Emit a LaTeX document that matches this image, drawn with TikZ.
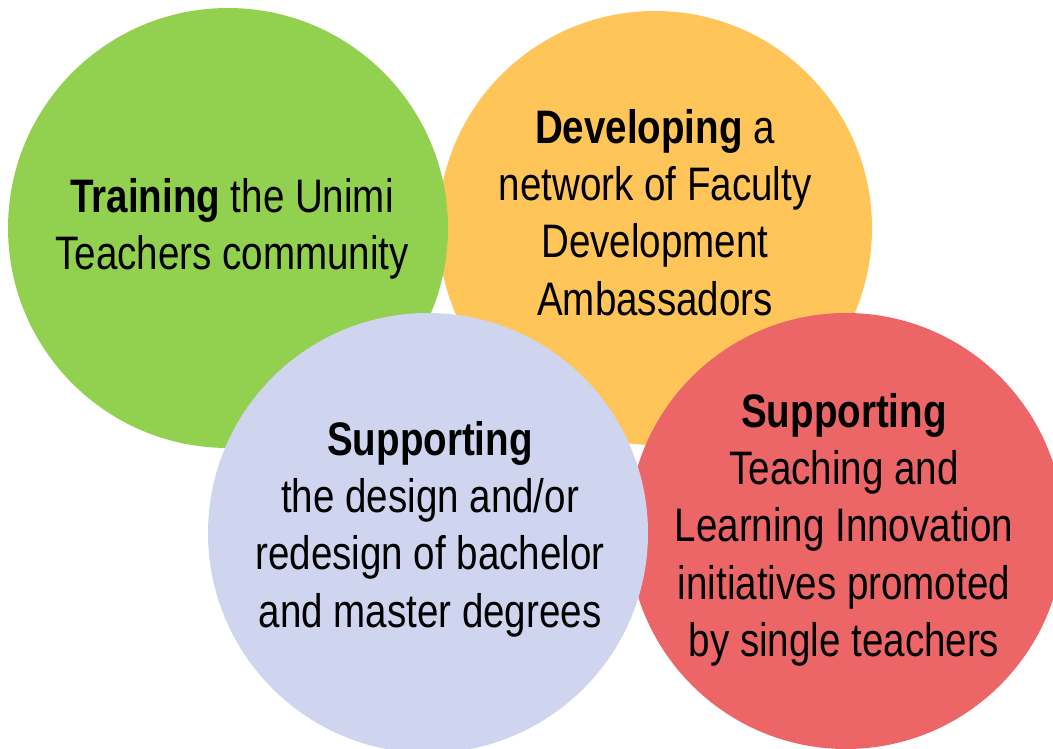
\documentclass[tikz,border=0pt]{standalone}
\usepackage{fontspec}
\setmainfont{Liberation Sans}[FakeStretch=0.82]
\definecolor{cgreen}{RGB}{146,208,80}
\definecolor{corange}{RGB}{255,197,88}
\definecolor{clav}{RGB}{207,213,238}
\definecolor{cred}{RGB}{236,102,104}
\tikzset{
  blob/.style={circle, inner sep=0pt, minimum size=#1, draw=none},
  label/.style={anchor=north, inner sep=0pt, align=center, text=black,
    font=\fontsize{47}{57.3}\selectfont},
}
\newcommand{\topstrut}{\rule{0pt}{40pt}}
\begin{document}
\begin{tikzpicture}[x=1pt,y=-1pt]
\useasboundingbox (0,0) rectangle (1053,749);
\clip (0,0) rectangle (1053,749);
\node[blob=434pt, fill=corange] (orange) at (655,228) {};
\node[blob=440pt, fill=cgreen] (green) at (228,228) {};
\node[blob=436pt, fill=cred] (red) at (846,531) {};
\node[blob=440pt, fill=clav] (lav) at (428,533) {};
\node[label] (tgreen) at (232,172) {\topstrut\textbf{Training} the Unimi\\Teachers community};
\node[label] (torange) at (655,103) {\topstrut\textbf{Developing} a\\network of Faculty\\Development\\Ambassadors};
\node[label] (tlav) at (430,415) {\topstrut\textbf{Supporting}\\the design and/or\\redesign of bachelor\\and master degrees};
\node[label] (tred) at (844,387) {\topstrut\textbf{Supporting}\\Teaching and\\Learning Innovation\\initiatives promoted\\by single teachers};
\end{tikzpicture}
\end{document}
